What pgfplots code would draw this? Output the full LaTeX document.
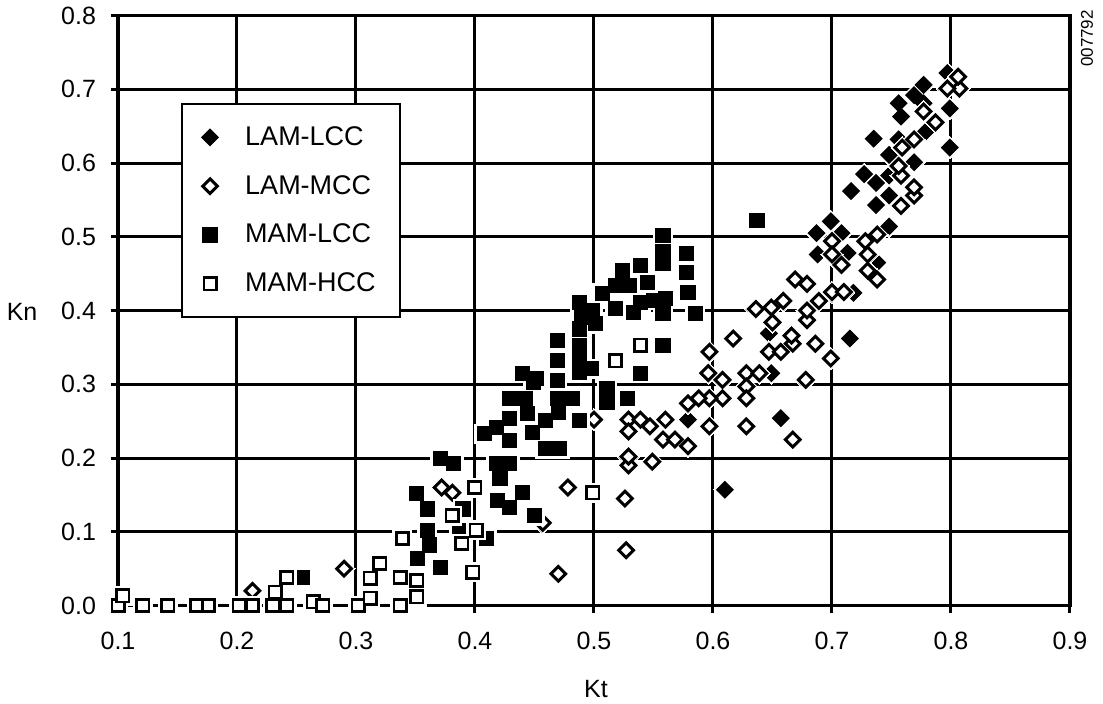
\documentclass[border=0pt]{standalone}
\usepackage{fontspec}
\setmainfont{Liberation Sans}
\usepackage{pgfplots}
\usepackage{pgfplotstable}
\pgfplotsset{compat=1.18}

\pgfplotstableread{
x y
0.797 0.722
0.777 0.706
0.769 0.692
0.756 0.681
0.777 0.681
0.758 0.663
0.799 0.674
0.779 0.643
0.735 0.633
0.756 0.632
0.799 0.621
0.748 0.611
0.769 0.601
0.727 0.585
0.737 0.573
0.748 0.583
0.716 0.562
0.748 0.556
0.737 0.543
0.699 0.521
0.687 0.505
0.708 0.505
0.688 0.476
0.748 0.514
0.713 0.478
0.738 0.465
0.718 0.424
0.715 0.362
0.647 0.369
0.649 0.315
0.579 0.252
0.657 0.254
0.610 0.157
}\lamlcc

\pgfplotstableread{
x y
0.807 0.701
0.806 0.717
0.797 0.701
0.787 0.655
0.777 0.670
0.769 0.632
0.759 0.621
0.758 0.583
0.756 0.596
0.769 0.556
0.769 0.567
0.758 0.542
0.738 0.503
0.728 0.494
0.730 0.476
0.730 0.454
0.738 0.442
0.700 0.494
0.700 0.476
0.708 0.462
0.700 0.425
0.710 0.425
0.689 0.413
0.679 0.436
0.669 0.442
0.659 0.413
0.649 0.404
0.650 0.384
0.679 0.387
0.679 0.400
0.636 0.402
0.617 0.362
0.597 0.344
0.647 0.344
0.657 0.344
0.667 0.355
0.666 0.366
0.686 0.355
0.699 0.335
0.596 0.315
0.608 0.306
0.628 0.315
0.639 0.315
0.628 0.297
0.628 0.281
0.608 0.281
0.597 0.281
0.588 0.281
0.579 0.274
0.597 0.243
0.628 0.243
0.678 0.306
0.667 0.225
0.529 0.252
0.539 0.252
0.547 0.243
0.560 0.252
0.529 0.236
0.558 0.225
0.568 0.225
0.579 0.216
0.529 0.190
0.529 0.202
0.549 0.195
0.500 0.252
0.526 0.145
0.527 0.075
0.470 0.043
0.478 0.160
0.457 0.112
0.372 0.160
0.381 0.153
0.290 0.050
0.213 0.020
}\lammcc

\pgfplotstableread{
x y
0.558 0.502
0.558 0.480
0.558 0.464
0.539 0.461
0.524 0.454
0.578 0.477
0.578 0.452
0.579 0.424
0.585 0.396
0.518 0.434
0.530 0.434
0.545 0.438
0.507 0.423
0.539 0.411
0.550 0.414
0.560 0.416
0.518 0.403
0.558 0.396
0.533 0.397
0.488 0.411
0.499 0.400
0.490 0.390
0.488 0.375
0.488 0.353
0.488 0.336
0.501 0.382
0.469 0.359
0.469 0.332
0.469 0.305
0.469 0.281
0.482 0.281
0.498 0.321
0.488 0.316
0.511 0.294
0.511 0.275
0.528 0.281
0.539 0.315
0.558 0.353
0.440 0.315
0.452 0.308
0.449 0.302
0.429 0.281
0.442 0.281
0.429 0.254
0.444 0.260
0.459 0.251
0.448 0.235
0.488 0.251
0.470 0.262
0.418 0.241
0.429 0.224
0.408 0.233
0.459 0.213
0.471 0.213
0.371 0.199
0.382 0.193
0.418 0.193
0.429 0.193
0.421 0.172
0.440 0.153
0.429 0.133
0.419 0.142
0.450 0.122
0.351 0.152
0.360 0.131
0.360 0.102
0.362 0.082
0.390 0.131
0.387 0.102
0.410 0.091
0.255 0.038
0.352 0.064
0.371 0.052
0.637 0.522
}\mamlcc

\pgfplotstableread{
x y
0.100 0.000
0.104 0.013
0.121 0.000
0.142 0.000
0.166 0.000
0.176 0.000
0.202 0.000
0.213 0.000
0.232 0.018
0.230 0.000
0.242 0.000
0.242 0.038
0.264 0.005
0.272 0.000
0.302 0.000
0.312 0.010
0.312 0.037
0.320 0.057
0.337 0.000
0.337 0.038
0.351 0.012
0.351 0.034
0.339 0.091
0.381 0.122
0.389 0.084
0.398 0.045
0.400 0.160
0.401 0.102
0.499 0.153
0.518 0.332
0.539 0.353
}\mamhcc

\begin{document}
\begin{tikzpicture}
\path (-59pt,-47.5pt) rectangle (492.5pt,302.5pt);
\begin{axis}[
  set layers,
  at={(0pt,0pt)}, anchor=south west,
  scale only axis, width=476pt, height=295pt,
  xmin=0.1, xmax=0.9, ymin=0, ymax=0.8,
  xtick={0.1,0.2,0.3,0.4,0.5,0.6,0.7,0.8,0.9},
  ytick={0,0.1,0.2,0.3,0.4,0.5,0.6,0.7,0.8},
  tick pos=left, tick align=outside, major tick length=3.5pt,
  grid=major, grid style={black, line width=1.5pt},
  axis line style={black, line width=1.8pt},
  tick style={black, line width=1.5pt},
  clip=false,
  ticklabel style={font=\fontsize{12.5}{14}\selectfont},
  /pgf/number format/.cd, fixed, fixed zerofill, precision=1, assume math mode=true, /pgfplots/.cd,
  yticklabel style={xshift=-4pt},
  xticklabel style={yshift=-6pt},
  xlabel={Kt}, ylabel={Kn},
  label style={font=\fontsize{12.5}{14}\selectfont},
  xlabel style={at={(axis description cs:0.502,-0.1407)}, anchor=center},
  ylabel style={at={(axis description cs:-0.1008,0.498)}, anchor=center, rotate=-90},
  legend style={at={(axis description cs:0.066,0.851)}, anchor=north west,
    draw=black, line width=1pt, fill=white,
    font=\fontsize{13.5}{15}\selectfont,
    inner xsep=10pt, inner ysep=9pt, row sep=9.5pt, column sep=11.5pt},
  legend cell align=left,
]
% LAM-LCC
\addplot[forget plot, black, only marks, mark=square*, mark size=3.9pt, mark options={rotate=45, fill=white, draw=white, line width=0pt}] table {\lamlcc};
\addplot[black, only marks, mark=square*, mark size=2.9pt, mark options={rotate=45, fill=black, draw=black, line width=0.6pt}] table {\lamlcc};
\addlegendentry{LAM-LCC}
% LAM-MCC
\addplot[forget plot, black, only marks, mark=square*, mark size=3.9pt, mark options={rotate=45, fill=white, draw=white, line width=0pt}] table {\lammcc};
\addplot[black, only marks, mark=square*, mark size=2.6pt, mark options={rotate=45, fill=white, draw=black, line width=1.5pt}] table {\lammcc};
\addlegendentry{LAM-MCC}
% MAM-LCC
\addplot[forget plot, black, only marks, mark=square*, mark size=4.8pt, mark options={fill=white, draw=white, line width=0pt}] table {\mamlcc};
\addplot[black, only marks, mark=square*, mark size=3.5pt, mark options={fill=black, draw=black, line width=0.6pt}] table {\mamlcc};
\addlegendentry{MAM-LCC}
% MAM-HCC
\addplot[forget plot, black, only marks, mark=square*, mark size=4.75pt, mark options={fill=white, draw=white, line width=0pt}] table {\mamhcc};
\addplot[black, only marks, mark=square*, mark size=3.1pt, mark options={fill=white, draw=black, line width=1.3pt}] table {\mamhcc};
\addlegendentry{MAM-HCC}
\node[rotate=90, font=\fontsize{8.5}{10}\selectfont] at (axis description cs:1.018,0.961) {007792};
\end{axis}
\end{tikzpicture}
\end{document}
